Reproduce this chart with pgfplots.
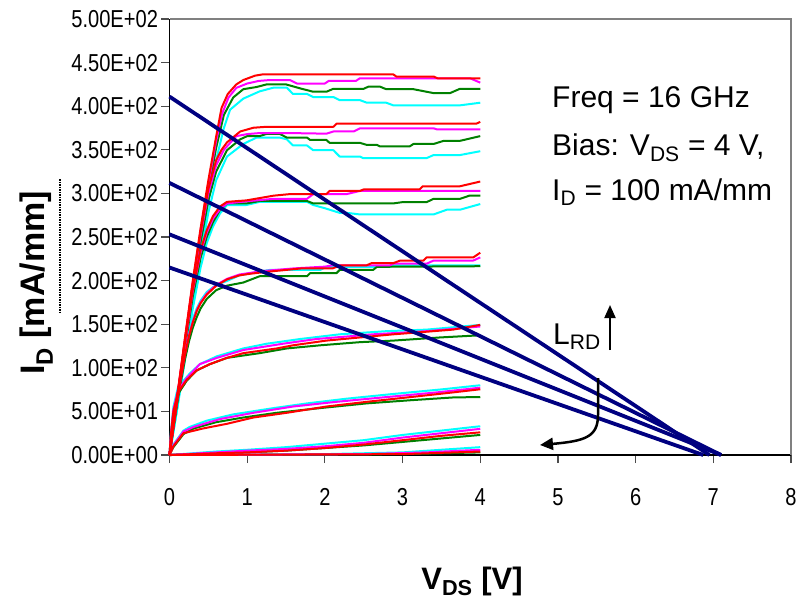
\documentclass[border=0pt]{standalone}
\usepackage{fontspec}
\setmainfont{Liberation Sans}
\newfontfamily\narrowfont[FakeStretch=0.82]{Liberation Sans}
\usepackage{pgfplots}
\pgfplotsset{compat=1.18}
\usetikzlibrary{arrows.meta}
\definecolor{cRed}{HTML}{FF0000}
\definecolor{cMag}{HTML}{FF00FF}
\definecolor{cGreen}{HTML}{008000}
\definecolor{cCyan}{HTML}{00FFFF}
\definecolor{navyline}{HTML}{000080}
\newcommand\sub[1]{\textsubscript{#1}}

\begin{document}
\begin{tikzpicture}[x=1pt,y=1pt]
\useasboundingbox (-169.5,-151) rectangle (635.5,455);
\begin{axis}[
  at={(0,0)}, anchor=south west,
  scale only axis, width=621.5pt, height=436pt,
  xmin=0, xmax=8, ymin=0, ymax=500,
  axis x line*=bottom, axis y line*=left,
  axis line style={black, line width=1.3pt},
  tick align=outside, major tick length=8pt,
  tick style={black!70, line width=1.2pt},
  xtick={0,1,...,8}, xticklabels={0,1,2,3,4,5,6,7,8},
  ytick={0,50,...,500},
  yticklabels={0.00E+00,5.00E+01,1.00E+02,1.50E+02,2.00E+02,2.50E+02,3.00E+02,3.50E+02,4.00E+02,4.50E+02,5.00E+02},
  ticklabel style={font=\narrowfont\fontsize{24.5}{28}\selectfont},
  xticklabel style={yshift=-22pt},
  clip=false,
  every axis plot/.append style={line width=2pt, line join=round},
]
% ---- cyan ----
\addplot[cCyan] coordinates {(0,0)(0.1,55)(0.2,115)(0.3,175)(0.4,235)(0.5,290)(0.6,338)(0.7,375)(0.78,396)(0.95,408.7)(1.16,417)(1.34,421.3)(1.51,421.3)(1.59,414)(1.77,414)(1.85,410.5)(2.11,410.5)(2.19,407)(2.45,407)(2.54,404)(2.79,404)(2.88,401)(3.74,401)(4,404)};
\addplot[cCyan] coordinates {(0,0)(0.1,54)(0.2,113)(0.3,172)(0.4,228)(0.5,278)(0.6,315)(0.74,342.3)(0.95,356.7)(1.12,364)(1.42,364)(1.51,362)(1.59,355)(1.77,355)(1.85,349.5)(2.11,349.5)(2.19,342.3)(2.45,342.3)(2.49,340.5)(3.31,340.5)(3.4,344)(3.74,344)(4,348.4)};
\addplot[cCyan] coordinates {(0,0)(0.1,53)(0.2,110)(0.3,168)(0.4,215)(0.48,243)(0.56,262)(0.65,277)(0.74,286.7)(0.99,286.7)(1.16,290.3)(1.77,290.3)(1.85,286.7)(2.0,283)(2.19,277.7)(2.28,277.7)(2.45,275.9)(3.4,275.9)(3.57,281.3)(3.74,281.3)(4,287.8)};
\addplot[cCyan] coordinates {(0,0)(0.05,34)(0.1,65)(0.15,93)(0.2,118)(0.25,139)(0.3,156)(0.35,168)(0.4,177)(0.48,187)(0.6,195)(0.74,199.6)(0.9,206)(1.16,210.4)(1.29,212.2)(1.94,212.2)(2.02,215.8)(2.84,215.8)(2.88,217.6)(4,217.6)};
\addplot[cCyan] coordinates {(0,0)(0.02,28)(0.05,55)(0.11,78)(0.26,93.4)(0.39,104.2)(0.61,113.2)(0.95,122.2)(1.25,127.6)(1.68,133)(2.19,138.4)(2.79,142)(3.31,143.8)(4,149.2)};
\addplot[cCyan] coordinates {(0,0)(0.05,12)(0.18,28)(0.26,32.2)(0.48,39.4)(0.82,46.6)(1.34,53.8)(1.77,59.2)(2.28,64.6)(2.88,70)(3.52,75.4)(4,80)};
\addplot[cCyan] coordinates {(0,0)(0.3,2)(0.6,4)(1.0,6)(1.5,9)(2.0,13)(2.5,17)(3.0,23)(3.5,28)(4.0,33)};
\addplot[cCyan] coordinates {(0,0)(1,0.5)(2,1)(3,3)(3.5,6)(4,9)};
% ---- green ----
\addplot[cGreen] coordinates {(0,0)(0.1,64)(0.2,128)(0.3,190)(0.4,250)(0.5,304)(0.6,352)(0.7,390)(0.82,410)(0.95,419.5)(1.12,422)(1.25,425)(1.5,425)(1.7,420)(1.85,416.6)(2.02,416.6)(2.11,420)(2.5,420)(2.56,422.4)(2.71,422.4)(2.79,419.5)(3.14,419.5)(3.4,415)(3.61,415)(3.74,420)(4,420)};
\addplot[cGreen] coordinates {(0,0)(0.1,63)(0.2,126)(0.3,188)(0.4,244)(0.5,292)(0.6,325)(0.74,349.5)(0.91,362)(1.0,365.7)(1.16,365.7)(1.25,368.2)(1.42,368.2)(1.51,364)(1.77,364)(1.81,361.3)(2.02,361.3)(2.06,358)(2.45,358)(2.54,355.6)(2.67,355.6)(2.71,353.8)(3.09,353.8)(3.14,356.7)(3.4,356.7)(3.53,360.3)(3.74,360.3)(4,365.7)};
\addplot[cGreen] coordinates {(0,0)(0.1,62)(0.2,124)(0.3,182)(0.4,226)(0.48,250)(0.56,267)(0.65,281)(0.74,288.5)(0.99,288.5)(1.16,291.3)(1.77,291.3)(1.85,288.5)(2.88,288.5)(3.0,290)(3.31,290)(3.4,293.8)(3.74,293.8)(3.86,297.4)(4,297.4)};
\addplot[cGreen] coordinates {(0,0)(0.05,31)(0.1,59)(0.15,86)(0.2,110)(0.25,130)(0.3,146)(0.35,158)(0.4,168)(0.48,179)(0.6,189)(0.74,194.2)(0.95,197.8)(1.16,205)(1.77,205)(1.81,208.6)(2.15,208.6)(2.19,212.2)(2.62,212.2)(2.67,215.8)(4,216.5)};
\addplot[cGreen] coordinates {(0,0)(0.02,24)(0.05,48)(0.11,70)(0.22,85)(0.35,97)(0.52,104.2)(0.74,111.4)(1.16,116.8)(1.51,122.2)(1.94,125.8)(2.45,129.4)(2.88,131.2)(3.48,134.8)(4,137.3)};
\addplot[cGreen] coordinates {(0,0)(0.05,9)(0.18,24)(0.31,30.4)(0.6,37.6)(0.95,43)(1.38,48.4)(1.94,53.8)(2.54,59.2)(3.1,62.8)(3.65,66)(4,66.5)};
\addplot[cGreen] coordinates {(0,0)(0.6,2)(1.0,3)(1.5,5)(2.0,8)(2.5,11)(3.0,15)(3.5,19)(4.0,23)};
\addplot[cGreen] coordinates {(0,0)(2,0.5)(3,1)(3.5,2)(4,3)};
% ---- magenta ----
\addplot[cMag] coordinates {(0,0)(0.1,67)(0.2,133)(0.3,197)(0.4,257)(0.5,311)(0.6,360)(0.68,392)(0.76,410)(0.86,421)(1.0,426)(1.15,429)(1.29,430)(1.55,430)(1.64,426)(2.0,426)(2.05,429)(2.4,429)(2.45,432)(3.87,432)(4,427)};
\addplot[cMag] coordinates {(0,0)(0.1,66)(0.2,131)(0.3,195)(0.4,252)(0.5,300)(0.6,332)(0.7,350)(0.86,365.7)(1.0,368)(1.16,369.2)(1.55,369.2)(2.02,368.5)(2.11,371)(2.37,371)(2.45,374.6)(3.4,374.6)(3.44,373.5)(4,373.5)};
\addplot[cMag] coordinates {(0,0)(0.1,65)(0.2,128)(0.3,188)(0.4,232)(0.48,255)(0.56,271)(0.65,282)(0.74,288.5)(1.0,291)(1.34,293.8)(1.77,293.8)(1.85,299.2)(2.28,299.2)(2.45,302.8)(4,302.8)};
\addplot[cMag] coordinates {(0,0)(0.05,33)(0.1,63)(0.15,91)(0.2,116)(0.25,137)(0.3,153)(0.35,166)(0.4,175)(0.48,185)(0.6,195)(0.74,202)(0.9,207)(1.2,211)(1.6,214)(2.0,216)(2.1,217.6)(2.84,217.6)(2.88,219.4)(3.31,219.4)(3.4,223)(3.91,223)(4,226.6)};
\addplot[cMag] coordinates {(0,0)(0.02,26)(0.05,52)(0.11,74)(0.22,88)(0.39,104.2)(0.61,111.4)(0.95,120.4)(1.46,127.6)(1.89,133)(2.62,138.4)(3.31,142)(4,147.4)};
\addplot[cMag] coordinates {(0,0)(0.05,11)(0.18,27)(0.31,32.2)(0.65,41.2)(1.08,48.4)(1.59,55.6)(2.15,61)(2.79,66.4)(3.44,71.8)(4,77.2)};
\addplot[cMag] coordinates {(0,0)(0.6,3)(1.0,5)(1.5,7)(2.0,10)(2.5,14)(3.0,20)(3.5,25)(4.0,30)};
\addplot[cMag] coordinates {(0,0)(2.5,1)(3.3,3)(4,6)};
% ---- red ----
\addplot[cRed] coordinates {(0,0)(0.1,68)(0.2,135)(0.3,200)(0.4,260)(0.5,315)(0.6,365)(0.67,398)(0.75,414)(0.86,425)(0.95,430)(1.1,435)(1.2,436.5)(2.88,436.5)(2.92,434)(3.4,434)(3.45,432)(4,432)};
\addplot[cRed] coordinates {(0,0)(0.1,67)(0.2,133)(0.3,197)(0.4,255)(0.5,305)(0.6,338)(0.67,350)(0.74,358.5)(0.91,371)(1.08,375.3)(1.25,376.4)(2.11,376.4)(2.15,380)(3.95,380)(4,382)};
\addplot[cRed] coordinates {(0,0)(0.1,66)(0.2,130)(0.3,190)(0.4,235)(0.48,258)(0.56,274)(0.65,285)(0.74,290.3)(0.99,292)(1.34,297.4)(1.55,299.2)(2.02,299.2)(2.06,302.8)(2.45,302.8)(2.5,304.6)(3.22,304.6)(3.26,308.2)(3.74,308.2)(4,313.6)};
\addplot[cRed] coordinates {(0,0)(0.05,32)(0.1,62)(0.15,90)(0.2,115)(0.25,136)(0.3,152)(0.35,165)(0.4,174)(0.48,184)(0.6,194)(0.74,201.4)(0.9,206)(1.05,208)(1.29,210.4)(1.7,214)(2.1,214)(2.2,217.6)(2.54,217.6)(2.6,220)(2.88,220)(2.97,223)(3.27,223)(3.31,226.6)(3.91,226.6)(4,232)};
\addplot[cRed] coordinates {(0,0)(0.02,25)(0.05,50)(0.11,72)(0.22,86)(0.35,97)(0.52,104.2)(0.74,111.4)(0.95,116.8)(1.38,122.2)(1.59,125.8)(2.02,131.2)(2.45,134.8)(2.88,138.4)(3.14,140.2)(3.65,143.8)(4,149.2)};
\addplot[cRed] coordinates {(0,0)(0.05,10)(0.18,25)(0.43,30.4)(0.74,35.8)(1.08,43)(1.51,48.4)(2.02,55.6)(2.54,61)(3.1,66.4)(3.65,71.8)(4,75.4)};
\addplot[cRed] coordinates {(0,0)(0.6,2)(1.0,3)(1.5,5)(2.0,8)(2.5,12)(3.0,17)(3.5,22)(4.0,26)};
\addplot[cRed] coordinates {(0,0)(3,1)(4,4)};
% ---- load lines ----
\addplot[navyline, line width=3.8pt] coordinates {(0,411)(6.95,0)};
\addplot[navyline, line width=3.8pt] coordinates {(0,312)(7.1,0)};
\addplot[navyline, line width=3.8pt] coordinates {(0,253)(7.1,0)};
\addplot[navyline, line width=3.8pt] coordinates {(0,215)(6.87,0)};
\end{axis}
% annotations in pixel coordinates of the reference
\begin{scope}[shift={(-169.5pt,455pt)}, y=-1pt]
  \draw[black!50, line width=1.5pt] (169.5,19) -- (791,19) -- (791,455);
  \draw[densely dotted, line width=1.5pt] (60,179) -- (60,314);
  \node[rotate=90, anchor=base, font=\bfseries\fontsize{34}{40}\selectfont] at (45,283) {I\sub{D} [mA/mm]};
  \node[anchor=base, font=\bfseries\fontsize{31}{36}\selectfont] at (472,589) {V\sub{DS} [V]};
  \begin{scope}[every node/.style={anchor=base west, inner sep=0pt, font=\fontsize{30}{36}\selectfont}]
    \node at (552,108) {Freq = 16 GHz};
    \node at (552,155) {Bias: V\sub{DS} = 4 V,};
    \node at (552,200) {I\sub{D} = 100 mA/mm};
    \node at (553,344) {L\sub{RD}};
  \end{scope}
  \draw[line width=2pt, -{Triangle[length=13pt,width=11pt]}] (610,350) -- (610,305);
  \draw[line width=2.5pt, -{Triangle[length=13pt,width=12pt]}] (598,378) -- (598,415) .. controls (598,437) and (585,441) .. (540,445);
\end{scope}
\end{tikzpicture}
\end{document}
